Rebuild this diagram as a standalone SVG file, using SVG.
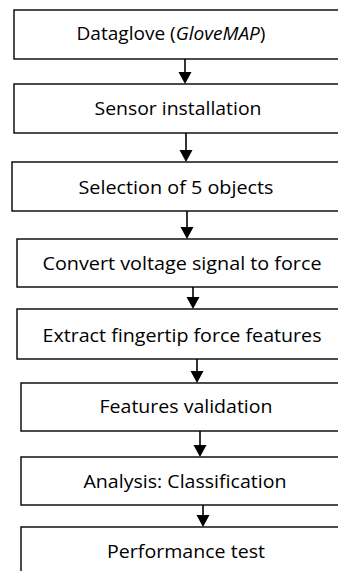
<svg xmlns="http://www.w3.org/2000/svg" width="338" height="571" viewBox="0 0 338 571">
<defs>
<style>
.box{fill:#fff;stroke:#000;stroke-width:1.4}
.lbl{font-family:"Open Sans","Noto Sans","DejaVu Sans",sans-serif;font-size:18.5px;fill:#000;text-anchor:middle}
.ln{stroke:#000;stroke-width:1.6;fill:none}
.ah{fill:#000}
</style>
</defs>
<rect width="338" height="571" fill="#fff"/>
<g id="connectors">
<line class="ln" x1="185" y1="59" x2="185" y2="74"/><polygon class="ah" points="178.5,72 191.5,72 185,84"/>
<line class="ln" x1="186" y1="133" x2="186" y2="152"/><polygon class="ah" points="179.5,150 192.5,150 186,162"/>
<line class="ln" x1="187" y1="211" x2="187" y2="229"/><polygon class="ah" points="180.5,227 193.5,227 187,239"/>
<line class="ln" x1="193" y1="287" x2="193" y2="299"/><polygon class="ah" points="186.5,297 199.5,297 193,309"/>
<line class="ln" x1="197" y1="359" x2="197" y2="373"/><polygon class="ah" points="190.5,371 203.5,371 197,383"/>
<line class="ln" x1="200" y1="431" x2="200" y2="447"/><polygon class="ah" points="193.5,445 206.5,445 200,457"/>
<line class="ln" x1="203" y1="505" x2="203" y2="517"/><polygon class="ah" points="196.5,515 209.5,515 203,527"/>
</g>
<g id="n1"><rect class="box" x="14" y="10" width="340" height="49"/><text class="lbl" x="171" y="40" textLength="189" lengthAdjust="spacingAndGlyphs">Dataglove (<tspan font-style="italic">GloveMAP</tspan>)</text></g>
<g id="n2"><rect class="box" x="14" y="84" width="340" height="49"/><text class="lbl" x="178" y="115" textLength="167" lengthAdjust="spacingAndGlyphs">Sensor installation</text></g>
<g id="n3"><rect class="box" x="12" y="162" width="340" height="49"/><text class="lbl" x="176" y="194" textLength="195" lengthAdjust="spacingAndGlyphs">Selection of 5 objects</text></g>
<g id="n4"><rect class="box" x="17" y="239" width="340" height="48"/><text class="lbl" x="182" y="270" textLength="279" lengthAdjust="spacingAndGlyphs">Convert voltage signal to force</text></g>
<g id="n5"><rect class="box" x="17" y="309" width="340" height="50"/><text class="lbl" x="182" y="342" textLength="279" lengthAdjust="spacingAndGlyphs">Extract fingertip force features</text></g>
<g id="n6"><rect class="box" x="21" y="383" width="340" height="48"/><text class="lbl" x="186" y="413" textLength="173" lengthAdjust="spacingAndGlyphs">Features validation</text></g>
<g id="n7"><rect class="box" x="21" y="457" width="340" height="48"/><text class="lbl" x="185" y="488" textLength="203" lengthAdjust="spacingAndGlyphs">Analysis: Classification</text></g>
<g id="n8"><rect class="box" x="21" y="527" width="340" height="60"/><text class="lbl" x="186" y="558" textLength="158" lengthAdjust="spacingAndGlyphs">Performance test</text></g>
</svg>
